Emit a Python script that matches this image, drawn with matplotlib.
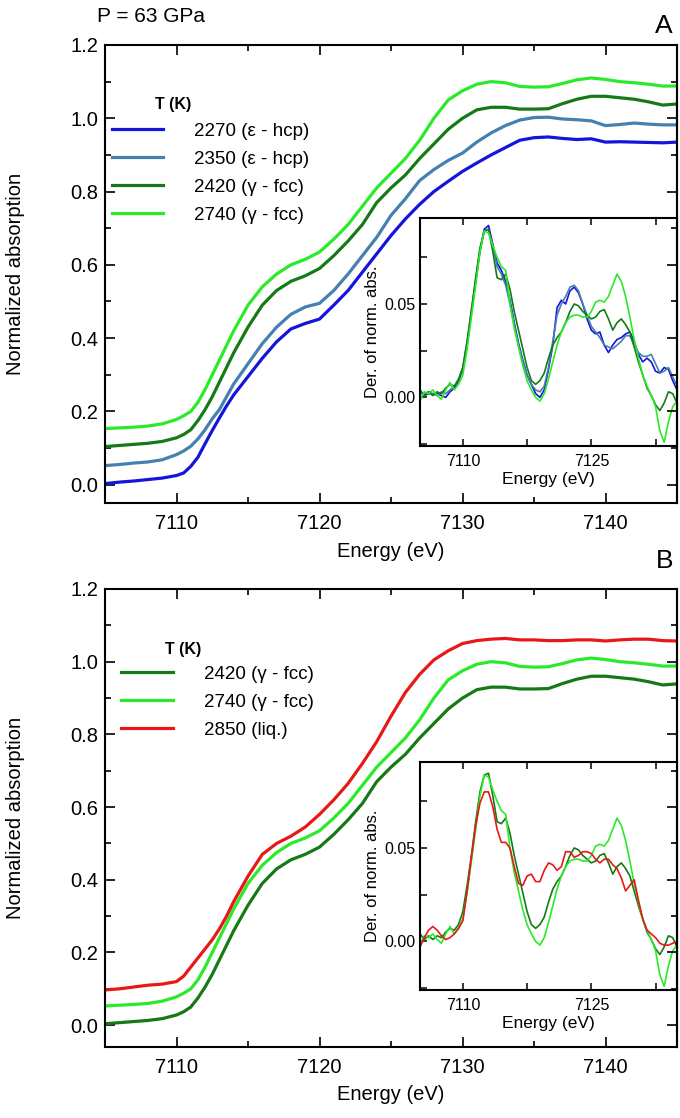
import numpy as np
import matplotlib
matplotlib.use("Agg")
import matplotlib.pyplot as plt
from matplotlib.ticker import MultipleLocator, FixedLocator, FormatStrFormatter, NullFormatter

plt.rcParams['font.family'] = ['Liberation Sans', 'DejaVu Sans']

# ---------------- data: XANES spectra (base, before vertical offset) ----------------
energy = [7105, 7106, 7107, 7108, 7109, 7110, 7110.5, 7111, 7111.5, 7112, 7112.5, 7113, 7113.5,
          7114, 7115, 7116, 7117, 7118, 7119, 7120, 7121, 7122, 7123, 7124, 7125, 7126, 7127,
          7128, 7129, 7130, 7131, 7132, 7133, 7134, 7135, 7136, 7137, 7138, 7139, 7140, 7141,
          7142, 7143, 7144, 7145]

mu_2270 = [.003, .007, .010, .014, .018, .025, .032, .050, .075, .112, .148, .182, .215,
           .245, .295, .345, .390, .425, .440, .452, .490, .530, .580, .630, .680, .725, .765,
           .800, .828, .855, .878, .900, .920, .940, .947, .949, .945, .942, .944, .935, .936,
           .935, .934, .933, .935]
mu_2350 = [.002, .005, .009, .012, .018, .032, .042, .055, .075, .100, .130, .155, .190,
           .225, .280, .335, .380, .415, .435, .445, .480, .525, .575, .625, .685, .730, .780,
           .810, .835, .855, .885, .910, .930, .945, .952, .953, .948, .946, .943, .930, .933,
           .937, .934, .932, .932]
mu_2420 = [.004, .007, .010, .013, .018, .028, .037, .050, .075, .105, .140, .180, .220,
           .260, .330, .390, .430, .455, .470, .490, .525, .565, .610, .670, .710, .745, .790,
           .830, .870, .900, .923, .930, .930, .925, .925, .926, .940, .952, .960, .960, .956,
           .952, .945, .936, .939]
mu_2740 = [.003, .005, .007, .010, .016, .028, .038, .050, .075, .110, .150, .190, .230,
           .270, .340, .390, .425, .450, .465, .485, .520, .560, .610, .660, .700, .740, .790,
           .850, .900, .925, .943, .950, .947, .937, .935, .936, .945, .955, .960, .956, .950,
           .947, .943, .938, .938]
mu_2850 = [-.003, .000, .005, .010, .013, .020, .035, .060, .085, .110, .135, .165, .200,
           .240, .310, .370, .400, .420, .445, .480, .520, .565, .620, .680, .750, .815, .865,
           .905, .930, .950, .958, .962, .964, .960, .960, .958, .958, .960, .960, .957, .960,
           .962, .962, .958, .957]

offsets_A = [0.0, 0.05, 0.10, 0.15]   # 2270, 2350, 2420, 2740
offsets_B = [0.0, 0.05, 0.10]         # 2420, 2740, 2850

# ---------------- data: derivatives (insets) ----------------
energy_d = [7105 + 0.5 * i for i in range(61)]

d_2270 = [.000, .001, .002, .002, .002, .001, .000, .003, .005, .009, .015, .028, .045, .062,
          .078, .090, .092, .082, .072, .068, .062, .052, .040, .029, .020, .012, .007, .002,
          .000, .004, .015, .028, .048, .052, .050, .057, .059, .056, .050, .042, .036, .034,
          .035, .028, .024, .028, .031, .032, .034, .035, .030, .023, .019, .021, .019, .014,
          .013, .016, .015, .009, .004]
d_2350 = [.002, .002, .003, .002, .001, .003, .002, .004, .006, .010, .016, .030, .047, .063,
          .079, .089, .090, .081, .070, .066, .060, .050, .039, .028, .019, .012, .007, .004,
          .003, .006, .016, .030, .044, .050, .054, .059, .060, .057, .050, .044, .038, .035,
          .032, .028, .027, .026, .028, .030, .033, .033, .028, .024, .022, .022, .023, .018,
          .013, .014, .016, .011, .006]
d_2420 = [.004, .001, .003, .001, .003, .002, .005, .007, .006, .009, .016, .030, .046, .064,
          .080, .089, .090, .078, .064, .063, .066, .058, .046, .036, .026, .016, .009, .007,
          .009, .013, .021, .028, .032, .035, .040, .046, .050, .049, .046, .044, .042, .043,
          .046, .047, .042, .036, .040, .042, .039, .035, .027, .019, .012, .005, .001, -.004,
          -.007, -.003, .003, .002, -.003]
d_2740 = [-.002, .003, .002, .004, .001, -.001, .004, .008, .004, .007, .012, .026, .043, .060,
          .078, .089, .088, .081, .075, .070, .068, .050, .037, .027, .017, .009, .004, .000,
          -.002, .002, .010, .019, .028, .035, .040, .043, .044, .044, .043, .043, .046, .051,
          .052, .051, .054, .060, .066, .062, .054, .043, .031, .021, .012, .006, .001, -.005,
          -.018, -.024, -.013, -.005, -.002]
d_2850 = [-.003, .002, .006, .008, .006, .003, .001, .002, .004, .007, .011, .027, .045, .062,
          .074, .080, .080, .072, .060, .053, .053, .050, .040, .031, .030, .035, .036, .032,
          .032, .038, .042, .041, .038, .040, .048, .048, .045, .046, .048, .048, .047, .044,
          .042, .044, .044, .041, .039, .034, .027, .030, .033, .022, .012, .006, .004, .002,
          -.001, -.002, -.002, -.001, .000]

labels_A = ['2270 (ε - hcp)', '2350 (ε - hcp)', '2420 (γ - fcc)', '2740 (γ - fcc)']
labels_B = ['2420 (γ - fcc)', '2740 (γ - fcc)', '2850 (liq.)']

C_BLUE = '#1414dc'
C_STEEL = '#4480b0'
C_DGREEN = '#157a15'
C_LGREEN = '#2aea2a'
C_RED = '#e81818'

W, H = 680, 1118
fig = plt.figure(figsize=(W / 100, H / 100), dpi=100)


def fpos(l, t, r, b):
    return [l / W, 1 - b / H, (r - l) / W, (b - t) / H]


def style_main(ax):
    ax.set_xlim(7105, 7145)
    ax.set_ylim(-0.05, 1.2)
    ax.xaxis.set_major_locator(MultipleLocator(10))
    ax.xaxis.set_minor_locator(MultipleLocator(5))
    ax.yaxis.set_major_locator(MultipleLocator(0.2))
    ax.yaxis.set_minor_locator(MultipleLocator(0.1))
    ax.yaxis.set_major_formatter(FormatStrFormatter('%.1f'))
    ax.tick_params(which='both', direction='in', top=True, right=False, width=1.2,
                   labelsize=14.5)
    ax.tick_params(which='major', length=7)
    ax.tick_params(which='minor', length=4)
    ax.tick_params(axis='x', pad=8)
    ax.tick_params(axis='y', pad=5)
    for s in ax.spines.values():
        s.set_linewidth(1.5)
    ax.set_ylabel('Normalized absorption', fontsize=14.5)
    ax.yaxis.set_label_coords(-0.14, 0.5)
    ax.set_xlabel('Energy (eV)', fontsize=14.5)


def right_overlay(pos, ylim):
    ov = fig.add_axes(pos, zorder=10)
    ov.patch.set_visible(False)
    ov.set_ylim(*ylim)
    ov.set_xticks([])
    ov.yaxis.tick_right()
    ov.yaxis.set_major_locator(MultipleLocator(0.2))
    ov.yaxis.set_minor_locator(MultipleLocator(0.1))
    ov.yaxis.set_major_formatter(NullFormatter())
    ov.tick_params(which='both', direction='in', width=1.2)
    ov.tick_params(which='major', length=7)
    ov.tick_params(which='minor', length=4)
    for k, s in ov.spines.items():
        s.set_visible(k == 'right')
        s.set_linewidth(1.5)
    return ov


def style_inset(ax):
    ax.set_xlim(7105, 7135)
    ax.set_ylim(-0.026, 0.096)
    ax.xaxis.set_major_locator(FixedLocator([7110, 7125]))
    ax.xaxis.set_minor_locator(MultipleLocator(7.5))
    ax.yaxis.set_major_locator(FixedLocator([0.0, 0.05]))
    ax.yaxis.set_minor_locator(MultipleLocator(0.025))
    ax.yaxis.set_major_formatter(FormatStrFormatter('%.2f'))
    ax.tick_params(which='both', direction='in', top=True, right=False, width=1.1,
                   labelsize=11.5)
    ax.tick_params(which='major', length=5)
    ax.tick_params(which='minor', length=5)
    ax.tick_params(axis='x', pad=6)
    ax.tick_params(axis='y', pad=3.5)
    for s in ax.spines.values():
        s.set_linewidth(1.5)
    ax.set_xlabel('Energy (eV)', fontsize=12.5)
    ax.xaxis.set_label_coords(0.5, -0.115)
    ax.set_ylabel('Der. of norm. abs.', fontsize=12)
    ax.yaxis.set_label_coords(-0.155, 0.5)


leg_kw = dict(loc='upper left', frameon=False, fontsize=13.5, handlelength=2.75,
              handletextpad=1.65, labelspacing=0.58, borderaxespad=0.0, borderpad=0.0)

# ---------------- panel A ----------------
posA = fpos(105, 45, 677, 503)
axA = fig.add_axes(posA)
style_main(axA)
axA.xaxis.set_label_coords(0.5, -0.085)
series_A = [(mu_2270, C_BLUE), (mu_2350, C_STEEL), (mu_2420, C_DGREEN), (mu_2740, C_LGREEN)]
handles = []
for (mu, c), off, lab in zip(series_A, offsets_A, labels_A):
    h, = axA.plot(energy, np.asarray(mu) + off, color=c, lw=2.3, label=lab)
    handles.append(h)
axA.legend(handles=handles, bbox_to_anchor=(0.012, 0.830), **leg_kw)
axA.text(0.088, 0.869, 'T (K)', transform=axA.transAxes, fontsize=11.5,
         fontweight='bold', va='center', ha='left')
fig.text(97 / W, 1 - 16 / H, 'P = 63 GPa', fontsize=15, va='center', ha='left')
fig.text(673 / W, 1 - 26 / H, 'A', fontsize=19, va='center', ha='right')
right_overlay(posA, (-0.05, 1.2))

insA = fig.add_axes(fpos(420, 218, 677, 446), zorder=5)
style_inset(insA)
for d, c in [(d_2270, C_BLUE), (d_2350, C_STEEL), (d_2420, C_DGREEN), (d_2740, C_LGREEN)]:
    insA.plot(energy_d, d, color=c, lw=1.2)

# ---------------- panel B ----------------
posB = fpos(105, 589, 677, 1047)
axB = fig.add_axes(posB)
style_main(axB)
axB.set_ylim(-0.06, 1.2)
axB.xaxis.set_label_coords(0.5, -0.083)
series_B = [(mu_2420, C_DGREEN), (mu_2740, C_LGREEN), (mu_2850, C_RED)]
handles = []
for (mu, c), off, lab in zip(series_B, offsets_B, labels_B):
    h, = axB.plot(energy, np.asarray(mu) + off, color=c, lw=2.3, label=lab)
    handles.append(h)
axB.legend(handles=handles, bbox_to_anchor=(0.028, 0.833), **leg_kw)
axB.text(0.105, 0.867, 'T (K)', transform=axB.transAxes, fontsize=11.5,
         fontweight='bold', va='center', ha='left')
fig.text(673 / W, 1 - 561 / H, 'B', fontsize=19, va='center', ha='right')
right_overlay(posB, (-0.06, 1.2))

insB = fig.add_axes(fpos(420, 762, 677, 990), zorder=5)
style_inset(insB)
for d, c in [(d_2420, C_DGREEN), (d_2740, C_LGREEN), (d_2850, C_RED)]:
    insB.plot(energy_d, d, color=c, lw=1.2)

fig.savefig('out.png', dpi=100)
